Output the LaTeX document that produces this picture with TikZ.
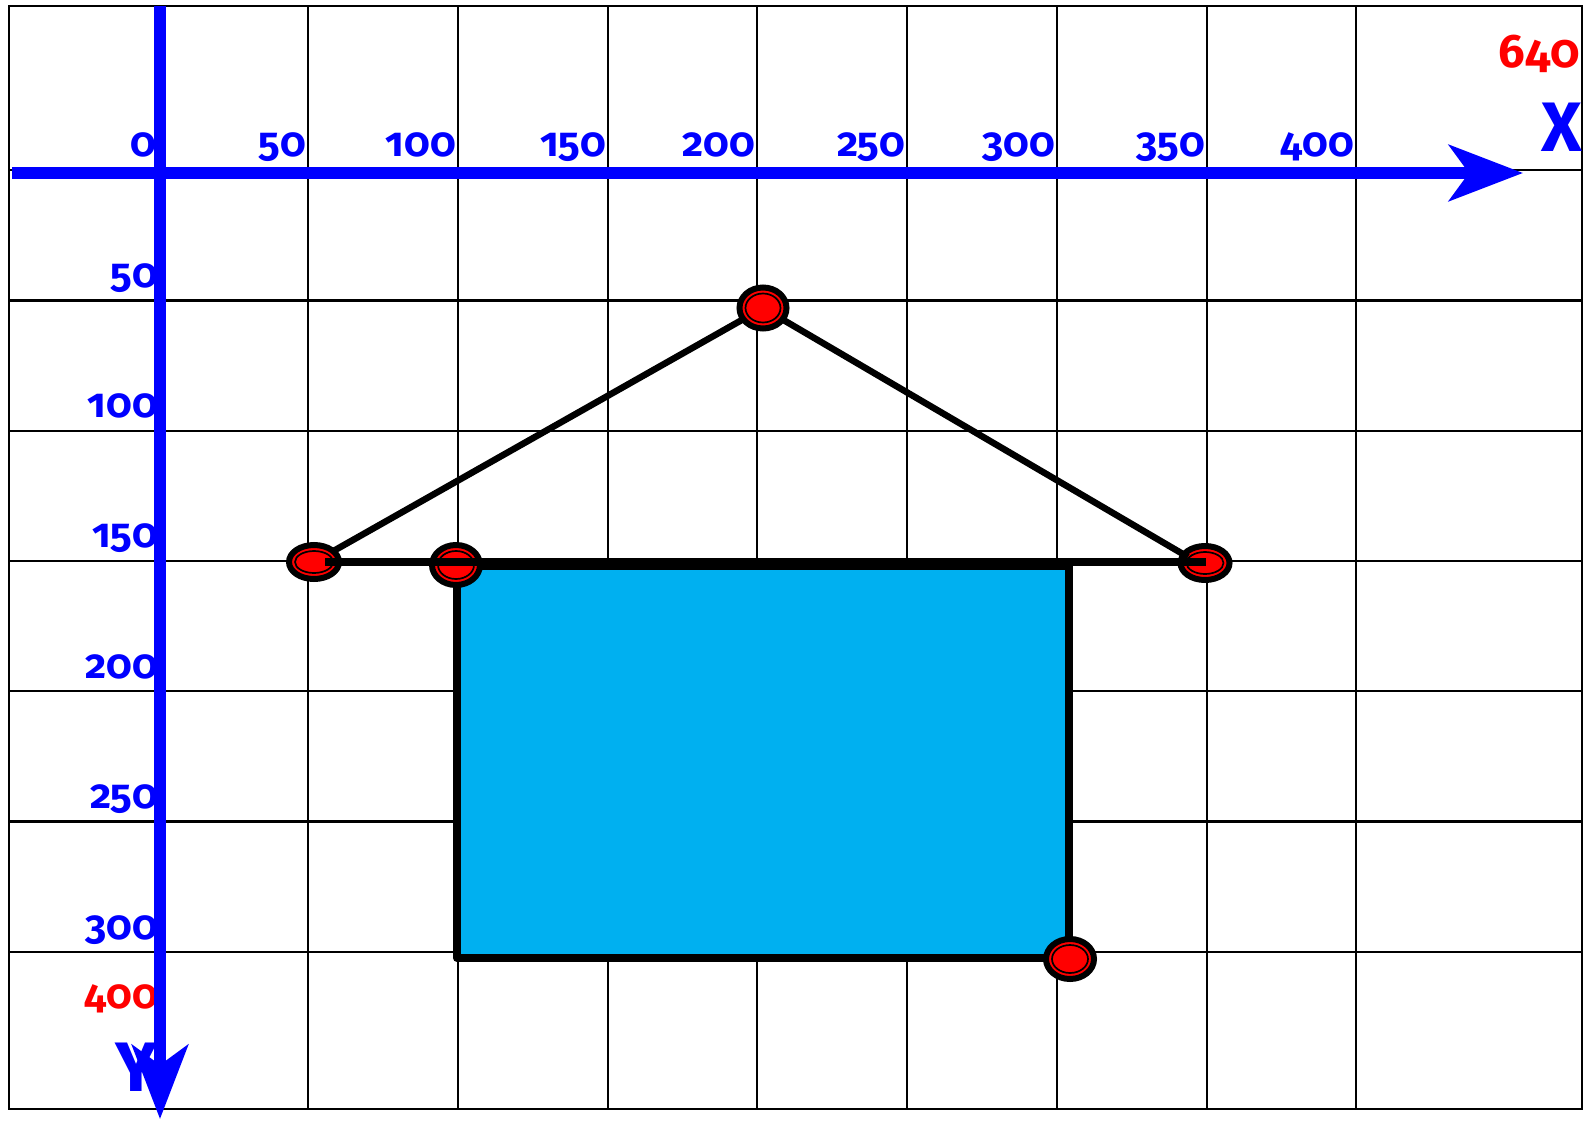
\documentclass[tikz,border=0pt]{standalone}
\usepackage{fontspec}
\setmainfont{Fira Sans}[Numbers=OldStyle]
\usetikzlibrary{arrows.meta,shapes.geometric}
\definecolor{axblue}{RGB}{0,0,255}
\definecolor{ptred}{RGB}{255,0,0}
\definecolor{boxblue}{RGB}{0,176,240}
\tikzset{
  gridline/.style={draw=black,line width=2.3pt},
  frameline/.style={draw=black,line width=2.8pt},
  tick/.style={text=axblue,font=\fontsize{41}{43}\selectfont\bfseries,anchor=base east,inner sep=0pt},
  redtick/.style={text=ptred,font=\fontsize{41}{43}\selectfont\bfseries,anchor=base east,inner sep=0pt},
  axislabel/.style={text=axblue,font=\fontsize{70}{72}\selectfont\bfseries,inner sep=0pt},
  axisline/.style={draw=axblue,line width=11.5pt,-{Stealth[length=74pt,width=56pt,inset=20pt]}},
  ptmark/.style={ellipse,draw=black,fill=ptred,line width=6pt,inner sep=0pt,outer sep=0pt},
  ring/.style={draw=black,line width=1.7pt},
  house/.style={draw=black,line width=6.5pt},
  baseline/.style={draw=black,line width=8pt},
  box/.style={draw=black,fill=boxblue,line width=8pt,line join=round}
}
\newcommand\ptmk[5]{%
  \node[ptmark,minimum width=#4*2pt,minimum height=#5*2pt] (#1) at (#2,#3) {};
  \draw[ring] (#1.center) ellipse [x radius=#4pt-6pt, y radius=#5pt-6pt];
}
\begin{document}
\begin{tikzpicture}[x=1pt,y=-1pt]
\useasboundingbox (0,0) rectangle (1593,1121);
\fill[white] (0,0) rectangle (1593,1121);
% grid
\foreach \gx in {160,308,458,608,757,907,1057,1207,1356}
  \draw[gridline] (\gx,6) -- (\gx,1109);
\foreach \gy in {170,300.5,430.7,561,691,821.5,952}
  \draw[gridline] (9,\gy) -- (1582,\gy);
\draw[frameline] (9,6) rectangle (1582,1109);
% x tick labels
\node[tick] (tx0) at (156,157) {0};
\node[tick] (tx1) at (306,157) {50};
\node[tick] (tx2) at (456,157) {100};
\node[tick] (tx3) at (606,157) {150};
\node[tick] (tx4) at (755,157) {200};
\node[tick] (tx5) at (905,157) {250};
\node[tick] (tx6) at (1055,157) {300};
\node[tick] (tx7) at (1205,157) {350};
\node[tick] (tx8) at (1354,157) {400};
\node[redtick,font=\fontsize{47}{49}\selectfont\bfseries] (tx9) at (1580,68) {640};
% y tick labels
\node[tick] (ty1) at (158,287) {50};
\node[tick] (ty2) at (158,417) {100};
\node[tick] (ty3) at (158,547) {150};
\node[tick] (ty4) at (158,678) {200};
\node[tick] (ty5) at (158,808) {250};
\node[tick] (ty6) at (158,939) {300};
\node[redtick] (ty7) at (158,1008) {400};
% axis letters
\node[axislabel,anchor=base east] (lx) at (1582,152) {X};
\node[axislabel,anchor=base] (ly) at (136,1091) {Y};
% axes
\coordinate (xs) at (12,173);
\coordinate (xe) at (1523,173);
\coordinate (ys) at (160,6);
\coordinate (ye) at (160,1119);
\draw[axisline] (xs) -- (xe);
\draw[axisline] (ys) -- (ye);
% box
\draw[box] (457,566) rectangle (1069,958);
% points and house outline
\coordinate (Lc) at (314,562);
\coordinate (Ac) at (763,308);
\draw[house] (Lc) -- (Ac);
\ptmk{L}{314}{562}{25}{17}
\ptmk{S}{456}{565}{24}{20}
\ptmk{R}{1205}{563}{24.5}{17}
\ptmk{B}{1070}{959}{24}{20}
\coordinate (Rin) at (1188,557);
\draw[house] (Ac) -- (Rin);
\coordinate (Lh) at (325,562);
\coordinate (Rh) at (1206,562);
\draw[baseline] (Lh) -- (Rh);
\ptmk{A}{763}{308}{23.5}{20.5}
\end{tikzpicture}
\end{document}
